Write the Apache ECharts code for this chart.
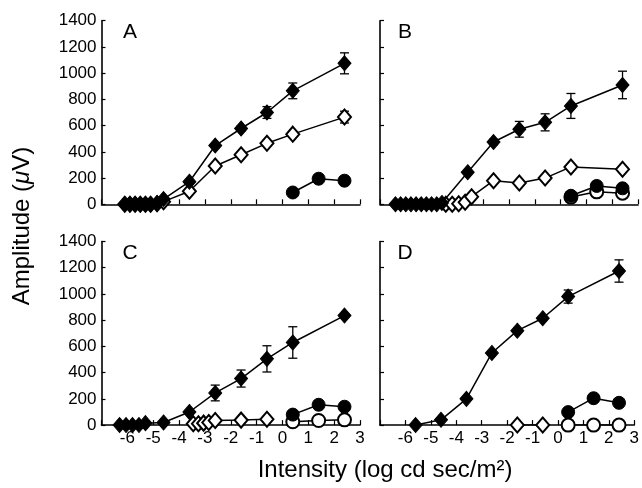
<!DOCTYPE html>
<html>
<head>
<meta charset="utf-8">
<script src="https://cdn.jsdelivr.net/npm/echarts@6/dist/echarts.min.js"></script>
<style>
  html, body { margin: 0; padding: 0; background: #fff; }
  #chart { width: 642px; height: 488px; }
</style>
</head>
<body>
<div id="chart"></div>
<script>
// Axis ticks
const xTicks = [-7, -6, -5, -4, -3, -2, -1, 0, 1, 2, 3];
const yTicks = [0, 200, 400, 600, 800, 1000, 1200, 1400];
const panelLetters = ['A', 'B', 'C', 'D'];

// Panel A
const aFilledX = [-6.1, -5.9, -5.7, -5.5, -5.3, -5.1, -4.85, -4.6, -3.6, -2.6, -1.6, -0.6, 0.4, 2.4];
const aFilledY = [0, 0, 0, 0, 0, 0, 10, 40, 172, 448, 578, 700, 865, 1075];
const aFilledErr = [0, 0, 0, 0, 0, 0, 0, 0, 0, 15, 20, 45, 60, 80];
const aOpenX = [-6.1, -5.9, -5.7, -5.5, -5.3, -5.1, -4.85, -4.6, -3.6, -2.6, -1.6, -0.6, 0.4, 2.4];
const aOpenY = [0, 0, 0, 0, 0, 0, 5, 20, 100, 292, 378, 465, 535, 665];
const aOpenErr = [0, 0, 0, 0, 0, 0, 0, 0, 0, 0, 0, 0, 0, 45];
const aDotX = [0.4, 1.4, 2.4];
const aDotY = [90, 195, 180];

// Panel B
const bFilledX = [-6.4, -6.2, -6.0, -5.8, -5.6, -5.4, -5.2, -5.0, -4.8, -4.6, -3.6, -2.6, -1.6, -0.6, 0.4, 2.4];
const bFilledY = [0, 0, 0, 0, 0, 0, 0, 0, 0, 10, 245, 475, 572, 625, 750, 910];
const bFilledErr = [0, 0, 0, 0, 0, 0, 0, 0, 0, 0, 0, 20, 60, 65, 95, 105];
const bOpenX = [-4.45, -4.2, -3.95, -3.7, -3.45, -2.6, -1.6, -0.6, 0.4, 2.4];
const bOpenY = [0, 0, 5, 15, 58, 180, 163, 200, 285, 268];
const bDotX = [0.4, 1.4, 2.4];
const bDotY = [65, 140, 122];
const bRingX = [0.4, 1.4, 2.4];
const bRingY = [55, 95, 85];

// Panel C
const cFilledX = [-6.3, -6.05, -5.8, -5.55, -5.3, -4.6, -3.6, -2.6, -1.6, -0.6, 0.4, 2.4];
const cFilledY = [0, 0, 0, 0, 15, 20, 100, 245, 355, 505, 630, 835];
const cFilledErr = [0, 0, 0, 0, 0, 0, 0, 60, 65, 100, 120, 0];
const cOpenX = [-3.45, -3.25, -3.05, -2.85, -2.6, -1.6, -0.6];
const cOpenY = [10, 10, 15, 20, 35, 38, 45];
const cDotX = [0.4, 1.4, 2.4];
const cDotY = [80, 155, 140];
const cRingX = [0.4, 1.4, 2.4];
const cRingY = [25, 35, 40];

// Panel D
const dFilledX = [-5.6, -4.6, -3.6, -2.6, -1.6, -0.6, 0.4, 2.4];
const dFilledY = [0, 40, 200, 550, 720, 815, 980, 1175];
const dFilledErr = [0, 0, 0, 0, 0, 0, 50, 85];
const dOpenX = [-1.6, -0.6];
const dOpenY = [0, 0];
const dDotX = [0.4, 1.4, 2.4];
const dDotY = [99, 205, 170];
const dRingX = [0.4, 1.4, 2.4];
const dRingY = [0, 0, 0];

const FONT = '"Liberation Sans", Arial, Helvetica, sans-serif';

const grids = [
  { left: 101.5, top: 20.7, width: 258.5, height: 183.6 },
  { left: 380, top: 20.7, width: 258, height: 183.6 },
  { left: 101.5, top: 241.5, width: 258.5, height: 183.6 },
  { left: 380, top: 241.5, width: 258, height: 183.6 }
];

function zip(xs, ys) { return xs.map((x, i) => [x, ys[i]]); }
function zipErr(xs, ys, es) {
  return xs.map((x, i) => [x, ys[i], es[i]]).filter(d => d[2] > 0);
}

const xAxes = grids.map((g, i) => ({
  type: 'value', gridIndex: i, position: 'bottom',
  min: xTicks[0], max: xTicks[xTicks.length - 1], interval: 1,
  axisLine: { show: true, onZero: false, lineStyle: { color: '#000', width: 1.6 } },
  axisTick: { show: true, inside: true, length: 5, lineStyle: { color: '#000', width: 1.2 } },
  splitLine: { show: false },
  axisLabel: {
    show: i >= 2, color: '#000', fontFamily: FONT, fontSize: 17, margin: 5,
    formatter: v => (v === xTicks[0] ? '' : String(v))
  }
}));

const yAxes = grids.map((g, i) => ({
  type: 'value', gridIndex: i, position: 'left',
  min: yTicks[0], max: yTicks[yTicks.length - 1], interval: 200,
  axisLine: { show: true, onZero: false, lineStyle: { color: '#000', width: 1.6 } },
  axisTick: { show: true, inside: true, length: 4, lineStyle: { color: '#000', width: 1.2 } },
  splitLine: { show: false },
  axisLabel: {
    show: i % 2 === 0, color: '#000', fontFamily: FONT, fontSize: 17, margin: 5,
    formatter: v => String(v)
  }
}));

function errSeries(idx, data) {
  return {
    type: 'custom', xAxisIndex: idx, yAxisIndex: idx, z: 1, silent: true,
    data: data,
    renderItem: function (params, api) {
      const x = api.value(0), y = api.value(1), e = api.value(2);
      const hi = api.coord([x, y + e]);
      const lo = api.coord([x, y - e]);
      const w = 4.5;
      const st = { stroke: '#000', lineWidth: 1.3 };
      return {
        type: 'group',
        children: [
          { type: 'line', shape: { x1: hi[0], y1: hi[1], x2: lo[0], y2: lo[1] }, style: st },
          { type: 'line', shape: { x1: hi[0] - w, y1: hi[1], x2: hi[0] + w, y2: hi[1] }, style: st },
          { type: 'line', shape: { x1: lo[0] - w, y1: lo[1], x2: lo[0] + w, y2: lo[1] }, style: st }
        ]
      };
    }
  };
}

function lineSeries(idx, data, symbol, filled, z) {
  return {
    type: 'line', xAxisIndex: idx, yAxisIndex: idx, z: z,
    data: data, symbol: symbol,
    symbolSize: symbol === 'diamond' ? [13, 15] : 13,
    showSymbol: true, showAllSymbol: true,
    lineStyle: { color: '#000', width: 1.5 },
    itemStyle: filled
      ? { color: '#000', borderColor: '#000', borderWidth: 1 }
      : { color: '#fff', borderColor: '#000', borderWidth: 2 },
    emphasis: { disabled: true }
  };
}

const series = [
  // A
  errSeries(0, zipErr(aFilledX, aFilledY, aFilledErr)),
  errSeries(0, zipErr(aOpenX, aOpenY, aOpenErr)),
  lineSeries(0, zip(aOpenX, aOpenY), 'diamond', false, 3),
  lineSeries(0, zip(aFilledX, aFilledY), 'diamond', true, 4),
  lineSeries(0, zip(aDotX, aDotY), 'circle', true, 4),
  // B
  errSeries(1, zipErr(bFilledX, bFilledY, bFilledErr)),
  lineSeries(1, zip(bOpenX, bOpenY), 'diamond', false, 3),
  lineSeries(1, zip(bFilledX, bFilledY), 'diamond', true, 4),
  lineSeries(1, zip(bRingX, bRingY), 'circle', false, 3),
  lineSeries(1, zip(bDotX, bDotY), 'circle', true, 4),
  // C
  errSeries(2, zipErr(cFilledX, cFilledY, cFilledErr)),
  lineSeries(2, zip(cOpenX, cOpenY), 'diamond', false, 3),
  lineSeries(2, zip(cRingX, cRingY), 'circle', false, 3),
  lineSeries(2, zip(cFilledX, cFilledY), 'diamond', true, 4),
  lineSeries(2, zip(cDotX, cDotY), 'circle', true, 4),
  // D
  errSeries(3, zipErr(dFilledX, dFilledY, dFilledErr)),
  lineSeries(3, zip(dOpenX, dOpenY), 'diamond', false, 3),
  lineSeries(3, zip(dRingX, dRingY), 'circle', false, 3),
  lineSeries(3, zip(dFilledX, dFilledY), 'diamond', true, 4),
  lineSeries(3, zip(dDotX, dDotY), 'circle', true, 4)
];

const letterPos = [[130, 32], [405, 32], [130, 253], [405, 253]];
const graphics = panelLetters.map((t, i) => ({
  type: 'text', x: letterPos[i][0], y: letterPos[i][1],
  style: { text: t, fontFamily: FONT, fontSize: 21, fill: '#000', align: 'center', verticalAlign: 'middle' }
}));
graphics.push({
  type: 'text', x: 385, y: 470,
  style: {
    text: 'Intensity (log cd sec/m²)', fontFamily: FONT, fontSize: 24, fill: '#000',
    align: 'center', verticalAlign: 'middle'
  }
});
graphics.push({
  type: 'text', x: 22, y: 226, rotation: Math.PI / 2,
  style: {
    text: '{a|Amplitude (}{b|μ}{a|V)}', align: 'center', verticalAlign: 'middle',
    rich: {
      a: { fontFamily: FONT, fontSize: 24, fill: '#000', color: '#000' },
      b: { fontFamily: FONT, fontSize: 24, fontStyle: 'italic', fill: '#000', color: '#000' }
    }
  }
});

const chart = echarts.init(document.getElementById('chart'), null, { renderer: 'canvas' });
chart.setOption({
  animation: false,
  backgroundColor: '#fff',
  grid: grids,
  xAxis: xAxes,
  yAxis: yAxes,
  series: series,
  graphic: graphics
});
</script>
</body>
</html>
